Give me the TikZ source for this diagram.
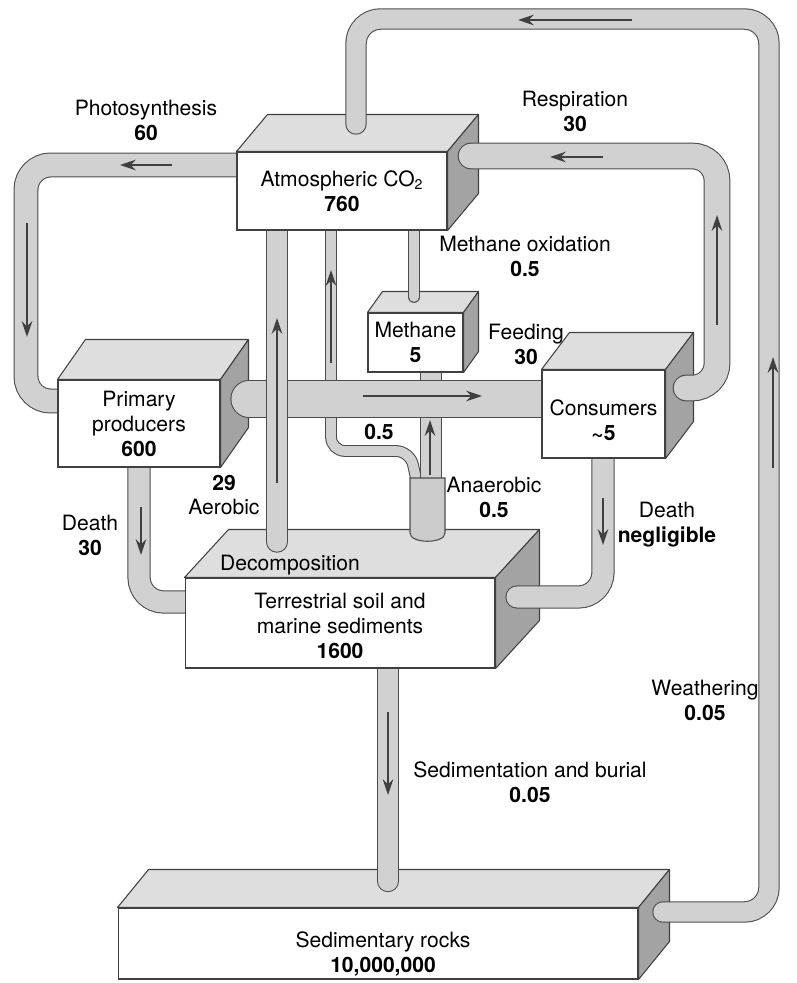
\documentclass[tikz,border=0pt]{standalone}
\usepackage{fontspec}
\setmainfont{TeX Gyre Heros}
\usetikzlibrary{arrows.meta}

\pgfdeclarelayer{faces}
\pgfdeclarelayer{pipes}
\pgfsetlayers{faces,pipes,main}

\tikzset{
  box/.style={draw=black!75, fill=white, line width=0.6pt, align=center, inner sep=0pt},
  topface/.style={draw=black!75, fill=black!13, line width=0.6pt, line join=round},
  sideface/.style={draw=black!75, fill=black!36, line width=0.6pt, line join=round},
  pipe/.style={draw=black!70, line width=0.6pt, double=black!18, double distance=#1,
    line cap=round, rounded corners=14pt},
  flow/.style={draw=black!75, line width=1.2pt, -{Stealth[length=9pt,width=6pt]}},
  lbl/.style={align=center, inner sep=0pt},
}

% top and right faces of a box node: node, depth x, depth y
\newcommand{\boxfaces}[3]{%
  \begin{pgfonlayer}{faces}
    \draw[topface] (#1.north west) -- ([shift={(#2,#3)}]#1.north west)
      -- ([shift={(#2,#3)}]#1.north east) -- (#1.north east) -- cycle;
    \draw[sideface] (#1.north east) -- ([shift={(#2,#3)}]#1.north east)
      -- ([shift={(#2,#3)}]#1.south east) -- (#1.south east) -- cycle;
  \end{pgfonlayer}}

\begin{document}
\begin{tikzpicture}[x=0.02cm, y=-0.02cm, font=\fontsize{12}{14.2}\selectfont]
  \useasboundingbox (0,0) rectangle (796,983);

  % reservoirs
  \node[box, minimum width=4.2cm, minimum height=1.56cm] (atm) at (342,191)
    {Atmospheric CO\textsubscript{2}\\\textbf{760}};
  \node[box, minimum width=3.24cm, minimum height=1.74cm] (prod) at (139,423.5)
    {Primary\\producers\\\textbf{600}};
  \node[box, minimum width=1.9cm, minimum height=1.18cm] (meth) at (415.5,342.5)
    {Methane\\\textbf{5}};
  \node[box, minimum width=2.46cm, minimum height=1.76cm] (cons) at (603.5,414) {};
  \node[lbl] (consT) at ([shift={(0,6)}]cons.center) {Consumers\\\textbf{\textasciitilde5}};
  \node[box, minimum width=6.2cm, minimum height=1.8cm] (soil) at (340,623) {};
  \node[lbl] (soilT) at ([shift={(0,3)}]soil.center)
    {Terrestrial soil and\\marine sediments\\\textbf{1600}};
  \node[box, minimum width=10.4cm, minimum height=1.42cm] (rock) at (378,943.5) {};
  \node[lbl] (rockT) at ([shift={(5,10)}]rock.center) {Sedimentary rocks\\\textbf{10,000,000}};

  \boxfaces{atm}{31}{-37}
  \boxfaces{prod}{28}{-40}
  \boxfaces{meth}{15}{-21}
  \boxfaces{cons}{28}{-37}
  \boxfaces{soil}{44}{-48}
  \boxfaces{rock}{31}{-38}

  % pipe ends
  \coordinate (wea1) at (356,124);
  \coordinate (wea2) at (769,19);
  \coordinate (wea3) at (663,912);
  \coordinate (ps1) at (26,165);
  \coordinate (ps2) at (26,401);
  \coordinate (resp1) at (471,156);
  \coordinate (resp2) at (686,388);
  \coordinate (feed1) at (249,399);
  \coordinate (aer) at (277,542);
  \coordinate (ml) at (331,451);
  \coordinate (ana) at (431,492);
  \coordinate (oxi) at (414,297);
  \coordinate (d30) at (139,602);
  \coordinate (dngC) at (603,597);
  \coordinate (dng) at (517,597);
  \coordinate (sed) at (388,881);

  \begin{pgfonlayer}{pipes}
    \draw[pipe=11pt] (wea1) |- (wea2) |- (wea3);
    \draw[pipe=13pt] (atm.west |- ps1) -- (ps1) -- (ps2) -- (prod.west |- ps2);
    \draw[pipe=14pt] (resp1) -| (717,388) -- (resp2);
    \draw[pipe=5.5pt, rounded corners=8pt] (atm.south -| ml) -- (ml) -- (410,451) -- (419,492);
    \draw[pipe=11pt] (ana) -- (ana |- meth.south);
    \draw[pipe=5.5pt] (atm.south -| oxi) -- (oxi);
    \draw[pipe=20pt] (feed1) -- (cons.west |- feed1);
    \draw[pipe=11pt] (aer) -- (aer |- atm.south);
    \draw[pipe=12pt] (prod.south -| d30) -- (d30) -- (soil.west |- d30);
    \draw[pipe=12pt] (cons.south -| dngC) -- (dngC) -- (dng);
    \draw[pipe=11.5pt] (soil.south -| sed) -- (sed);
    % anaerobic vessel
    \draw[draw=black!70, fill=black!20, line width=0.6pt]
      (410,478) -- (410,533) .. controls (410,544) and (445,544) .. (445,533)
      -- (445,478) -- cycle;
  \end{pgfonlayer}

  % flow arrows
  \draw[flow] (632,20) -- (518,20);
  \draw[flow] (773,468) -- (773,357);
  \draw[flow] (172,165) -- (120,165);
  \draw[flow] (27,223) -- (27,337);
  \draw[flow] (603,157) -- (550,157);
  \draw[flow] (717,325) -- (717,215);
  \draw[flow] (363,396) -- (482,396);
  \draw[flow] (277,483) -- (277,318);
  \draw[flow] (331,363) -- (331,270);
  \draw[flow] (430,475) -- (430,420);
  \draw[flow] (141,507) -- (141,555);
  \draw[flow] (603,498) -- (603,545);
  \draw[flow] (388,712) -- (388,795);

  % labels
  \node[lbl] (photoL) at (146,120) {Photosynthesis\\\textbf{60}};
  \node[lbl] (respL) at (575,111) {Respiration\\\textbf{30}};
  \node[lbl] (oxiL) at (525,256) {Methane oxidation\\\textbf{0.5}};
  \node[lbl] (feedL) at (526,344) {Feeding\\\textbf{30}};
  \node[lbl] (aerL) at (224,495) {\textbf{29}\\Aerobic};
  \node[lbl] (d30L) at (90,535) {Death\\\textbf{30}};
  \node[lbl] (decL) at (290,565) {Decomposition};
  \node[lbl] (anaL) at (494,497) {Anaerobic\\\textbf{0.5}};
  \node[lbl] (mlL) at (379,432) {\textbf{0.5}};
  \node[lbl] (dngL) at (667,525) {Death\\\textbf{negligible}};
  \node[lbl] (weaL) at (705,700) {Weathering\\\textbf{0.05}};
  \node[lbl] (sedL) at (530,782) {Sedimentation and burial\\\textbf{0.05}};
\end{tikzpicture}
\end{document}
